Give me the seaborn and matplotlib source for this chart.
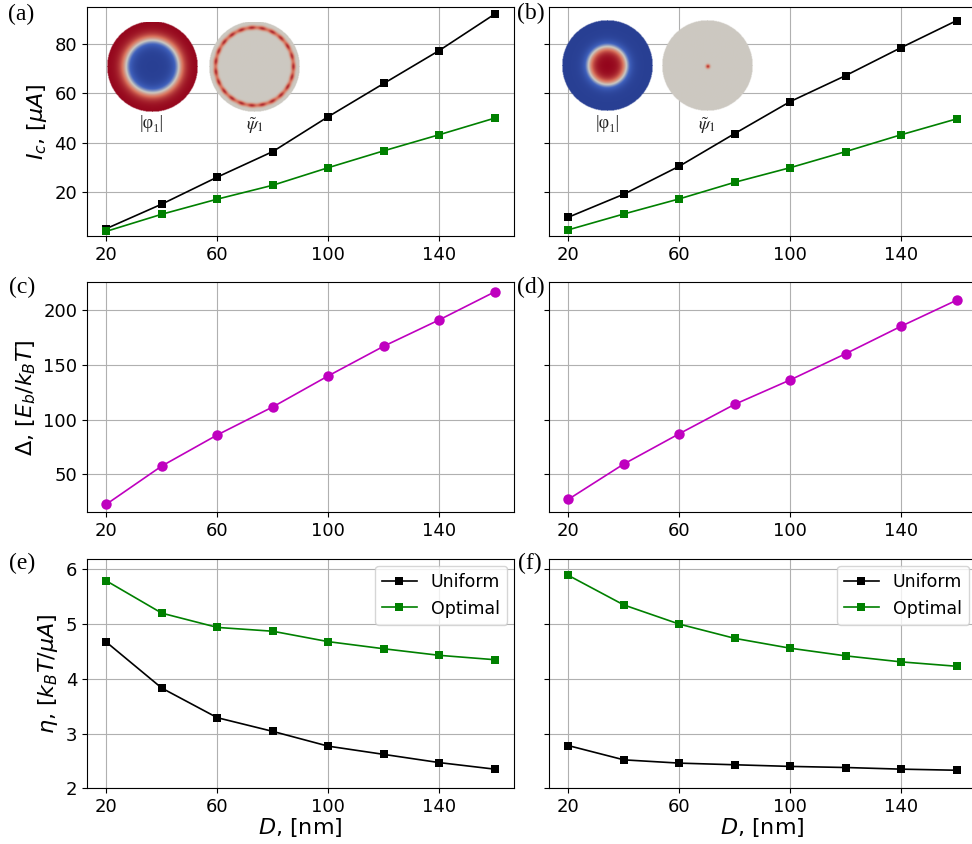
import numpy as np
import matplotlib
matplotlib.use("Agg")
import matplotlib.pyplot as plt
from matplotlib.colors import LinearSegmentedColormap
import seaborn as sns

# ---- data -------------------------------------------------------------
diam = [20, 40, 60, 80, 100, 120, 140, 160]

ic_uniform_a = [5.3, 15.2, 26.1, 36.4, 50.5, 63.9, 77.2, 91.9]
ic_optimal_a = [4.2, 11.1, 17.2, 22.8, 29.9, 36.7, 43.2, 49.9]
ic_uniform_b = [9.9, 19.2, 30.5, 43.7, 56.6, 67.1, 78.4, 89.3]
ic_optimal_b = [4.8, 11.2, 17.3, 24.0, 29.9, 36.4, 43.2, 49.6]

delta_c = [22.6, 57.6, 86.0, 111.6, 140.0, 167.1, 191.2, 216.8]
delta_d = [27.1, 59.4, 87.1, 114.0, 136.3, 160.3, 185.4, 209.2]

eta_uniform_e = [4.67, 3.83, 3.29, 3.04, 2.77, 2.62, 2.47, 2.35]
eta_optimal_e = [5.79, 5.20, 4.94, 4.87, 4.68, 4.55, 4.43, 4.35]
eta_uniform_f = [2.78, 2.52, 2.46, 2.43, 2.40, 2.38, 2.35, 2.33]
eta_optimal_f = [5.89, 5.35, 5.00, 4.74, 4.56, 4.42, 4.31, 4.23]

series_names = ["Uniform", "Optimal"]
panel_tags = ["(a)", "(b)", "(c)", "(d)", "(e)", "(f)"]
xticks = [20, 60, 100, 140]

# ---- style ------------------------------------------------------------
plt.rcParams.update({
    "font.family": ["DejaVu Sans"],
    "xtick.labelsize": 13,
    "ytick.labelsize": 13,
    "axes.labelsize": 16,
    "legend.fontsize": 12.5,
    "mathtext.fontset": "dejavusans",
})

W, H = 972, 844
fig = plt.figure(figsize=(W / 100, H / 100), dpi=100)


def px_axes(x0, y0, x1, y1):
    """Add axes given pixel box (left, top, right, bottom)."""
    return fig.add_axes([x0 / W, 1 - y1 / H, (x1 - x0) / W, (y1 - y0) / H])


cols = [(87, 514), (549, 976)]
rows = [(7, 236), (282.3, 512.3), (559, 788.3)]
ylims = [(2.3, 94.8), (15.2, 225.6), (2.0, 6.19)]
yticks = [[20, 40, 60, 80], [50, 100, 150, 200], [2, 3, 4, 5, 6]]
ylabels = [r"$I_c$, [$\mu A$]", r"$\Delta$, [$E_b/k_BT$]", r"$\eta$, [$k_BT/\mu A$]"]

axes = [[px_axes(c[0], r[0], c[1], r[1]) for c in cols] for r in rows]


def draw(ax, y, color, marker, ms, label=None):
    sns.lineplot(x=diam, y=y, ax=ax, color=color, marker=marker,
                 markersize=ms, markeredgewidth=0, linewidth=1.2,
                 label=label, zorder=3)


draw(axes[0][0], ic_uniform_a, "black", "s", 6)
draw(axes[0][0], ic_optimal_a, "green", "s", 6)
draw(axes[0][1], ic_uniform_b, "black", "s", 6)
draw(axes[0][1], ic_optimal_b, "green", "s", 6)
draw(axes[1][0], delta_c, "m", "o", 7.5)
draw(axes[1][1], delta_d, "m", "o", 7.5)
draw(axes[2][0], eta_uniform_e, "black", "s", 6, series_names[0])
draw(axes[2][0], eta_optimal_e, "green", "s", 6, series_names[1])
draw(axes[2][1], eta_uniform_f, "black", "s", 6, series_names[0])
draw(axes[2][1], eta_optimal_f, "green", "s", 6, series_names[1])

for i in range(3):
    for j in range(2):
        ax = axes[i][j]
        ax.set_xlim(13, 167)
        ax.set_ylim(*ylims[i])
        ax.set_xticks(xticks)
        ax.set_yticks(yticks[i])
        ax.grid(True, color="#b0b0b0", linewidth=0.8)
        ax.set_axisbelow(True)
        ax.set_xlabel(r"$D$, [nm]" if i == 2 else "", labelpad=0)
        if j == 0:
            ax.set_ylabel(ylabels[i])
        else:
            ax.set_ylabel("")
            ax.tick_params(labelleft=False)
        if i == 2:
            ax.legend(loc="upper right", handlelength=2.0, borderaxespad=0.4)

# panel tags
tag_pos = [(21, 14), (531, 13), (22, 287), (531, 287), (22, 563), (530, 563)]
for tag, (tx, ty) in zip(panel_tags, tag_pos):
    fig.text(tx / W, 1 - ty / H, tag, ha="center", va="center",
             family=["Liberation Serif", "DejaVu Serif"], fontsize=17)

# ---- disk insets --------------------------------------------------------
n = 181
yy, xx = np.mgrid[-1:1:n * 1j, -1:1:n * 1j]
rr = np.hypot(xx, yy)
theta = np.arctan2(yy, xx)
cmap = LinearSegmentedColormap.from_list(
    "cool_warm_dark",
    [(0.16, 0.25, 0.58), (0.25, 0.38, 0.74), (0.80, 0.79, 0.76),
     (0.85, 0.45, 0.36), (0.58, 0.02, 0.11)],
)


def disk_rgba(field):
    rgba = cmap(np.clip(field, 0, 1))
    rgba[..., 3] = (rr <= 1.0).astype(float)
    return rgba


field_a1 = 0.5 + 0.5 * np.tanh((rr - 0.58) / 0.16)
ring = np.exp(-((rr - 0.86) / 0.045) ** 2) * (0.8 + 0.2 * np.cos(23 * theta))
field_a2 = 0.5 + 0.42 * ring
field_b1 = 0.5 - 0.5 * np.tanh((rr - 0.42) / 0.14)
field_b2 = 0.5 + 0.4 * np.exp(-((xx - 0.01) ** 2 + (yy - 0.02) ** 2) / 0.045 ** 2)

disks = [
    (152, 67, field_a1), (254.5, 67, field_a2),
    (607.7, 65.7, field_b1), (707.8, 65.7, field_b2),
]
for cx, cy, fld in disks:
    r = 45.5
    iax = px_axes(cx - r, cy - r, cx + r, cy + r)
    iax.imshow(disk_rgba(fld), interpolation="bilinear")
    iax.set_axis_off()

labels_in = [
    (152, 123, "|φ₁|"), (255, 126, r"$\tilde{\psi}_1$"),
    (608, 123, "|φ₁|"), (707, 126, r"$\tilde{\psi}_1$"),
]
for lx, ly, s in labels_in:
    fig.text(lx / W, 1 - ly / H, s, ha="center", va="center", fontsize=13,
             family=["Liberation Serif", "DejaVu Serif"],
             math_fontfamily="stix", color="#222222")

fig.savefig("out.png", dpi=100)
